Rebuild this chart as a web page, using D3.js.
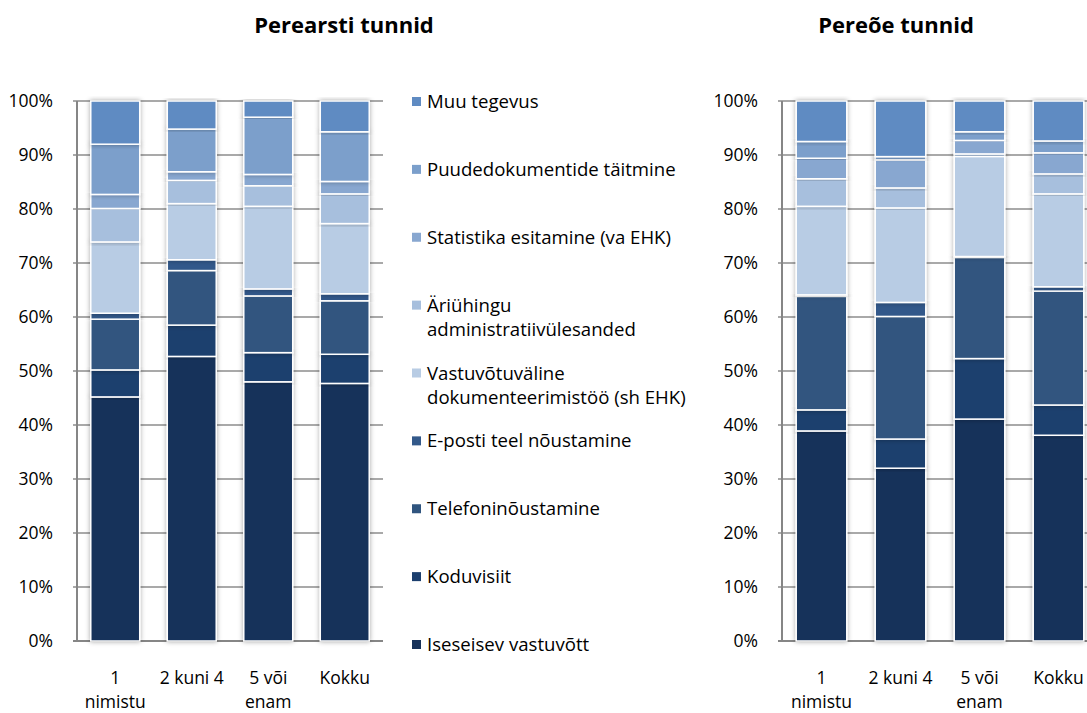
<!DOCTYPE html>
<html>
<head>
<meta charset="utf-8">
<script src="https://cdn.jsdelivr.net/npm/d3@7"></script>
<style>
      body { margin: 0; background: #fff; }
      svg { font-family: "Open Sans", Lato, sans-serif; }
</style>
</head>
<body>
<svg id="chart" width="1087" height="713"></svg>
<script>
// kategooriad (x-telg), iga rida kahe reaga
const categories = [["1", "nimistu"], ["2 kuni 4"], ["5 või", "enam"], ["Kokku"]];

// seeriad alt üles
const seriesNames = [
      "Iseseisev vastuvõtt",
      "Koduvisiit",
      "Telefoninõustamine",
      "E-posti teel nõustamine",
      "Vastuvõtuväline dokumenteerimistöö (sh EHK)",
      "Äriühingu administratiivülesanded",
      "Statistika esitamine (va EHK)",
      "Puudedokumentide täitmine",
      "Muu tegevus"
];
const legendLines = [
      ["Iseseisev vastuvõtt"],
      ["Koduvisiit"],
      ["Telefoninõustamine"],
      ["E-posti teel nõustamine"],
      ["Vastuvõtuväline", "dokumenteerimistöö (sh EHK)"],
      ["Äriühingu", "administratiivülesanded"],
      ["Statistika esitamine (va EHK)"],
      ["Puudedokumentide täitmine"],
      ["Muu tegevus"]
];
const seriesColors = ["#17325a", "#1c3f6e", "#30557f", "#33598a", "#b8cce4", "#a7bfdd", "#88a7d0", "#7b9fcb", "#5f8bc2"];

// Perearsti tunnid, % (seeriate järjekorras)
const arst1nimistu = [45.2, 5.0, 9.4, 1.1, 13.2, 6.2, 2.6, 9.3, 8.0];
const arst2kuni4 = [52.7, 5.8, 10.1, 2.0, 10.4, 4.3, 1.6, 7.9, 5.2];
const arst5voiEnam = [48.0, 5.4, 10.5, 1.3, 15.3, 3.8, 2.1, 10.6, 3.0];
const arstKokku = [47.7, 5.4, 9.9, 1.3, 13.0, 5.5, 2.3, 9.2, 5.7];

// Pereõe tunnid, %
const ode1nimistu = [38.9, 3.9, 21.0, 0.3, 16.4, 5.1, 3.8, 3.1, 7.5];
const ode2kuni4 = [32.0, 5.4, 22.7, 2.6, 17.5, 3.7, 5.2, 0.6, 10.3];
const ode5voiEnam = [41.1, 11.2, 18.7, 0.2, 18.5, 0.5, 2.5, 1.6, 5.7];
const odeKokku = [38.1, 5.6, 21.1, 0.8, 17.2, 3.7, 3.9, 2.2, 7.4];

const yTicks = [0, 10, 20, 30, 40, 50, 60, 70, 80, 90, 100];

const svg = d3.select("#chart");

const defs = svg.append("defs");
const shadow = defs.append("filter").attr("id", "glow")
      .attr("x", "-30%").attr("y", "-10%").attr("width", "160%").attr("height", "120%");
shadow.append("feDropShadow")
      .attr("dx", 0).attr("dy", 0).attr("stdDeviation", 2.5)
      .attr("flood-color", "#000").attr("flood-opacity", 0.35);

function draw_panel(title, rows, left, right, titleX) {
      const table = rows.map(function (vals, i) {
            const row = {cat: i};
            seriesNames.forEach(function (name, j) { row[name] = vals[j]; });
            return row;
      });
      const stacked = d3.stack().keys(seriesNames)(table);

      const x = d3.scaleBand()
            .domain(d3.range(categories.length))
            .range([left, right])
            .paddingInner(0.36)
            .paddingOuter(0.18);

      const y = d3.scaleLinear().domain([0, 100]).range([641, 101]);

      const g = svg.append("g");

      // ruudustik
      g.append("g").selectAll("line")
            .data(yTicks)
            .join("line")
            .attr("x1", left - 4)
            .attr("x2", right)
            .attr("y1", function (d) { return y(d); })
            .attr("y2", function (d) { return y(d); })
            .attr("stroke", d => d === 0 ? "#868686" : "#8c8c8c")
            .attr("stroke-width", d => d === 0 ? 2 : 1.5);

      g.append("line")
            .attr("x1", left).attr("x2", left)
            .attr("y1", y(100)).attr("y2", y(0))
            .attr("stroke", "#868686").attr("stroke-width", 2);

      const yAxis = g.append("g")
            .attr("transform", "translate(" + (left - 21) + ",0)")
            .call(d3.axisLeft(y).tickValues(yTicks).tickSize(0).tickFormat(d => d + "%"));
      yAxis.select(".domain").remove();
      yAxis.selectAll("text")
            .attr("font-size", 17.5)
            .attr("fill", "#000")
            .attr("font-family", "'Open Sans', sans-serif");

      // tulbad
      g.append("g").selectAll("g")
            .data(stacked)
            .join("g")
            .attr("fill", function (d, i) { return seriesColors[i]; })
            .selectAll("rect")
            .data(d => d)
            .join("rect")
            .attr("x", d => x(d.data.cat))
            .attr("width", x.bandwidth())
            .attr("y", d => y(d[1]))
            .attr("height", d => Math.max(0, y(d[0]) - y(d[1])))
            .attr("stroke", "#fff")
            .attr("stroke-width", 1.5)
            .attr("filter", "url(#glow)");

      // x-telje sildid
      const labels = g.append("g").selectAll("text")
            .data(categories)
            .join("text")
            .attr("x", (d, i) => x(i) + x.bandwidth() / 2)
            .attr("y", 684)
            .attr("text-anchor", "middle")
            .attr("font-size", 17.5)
            .attr("fill", "#000");
      labels.selectAll("tspan")
            .data(d => d)
            .join("tspan")
            .attr("x", function () { return this.parentNode.getAttribute("x"); })
            .attr("dy", (d, i) => i === 0 ? 0 : 24)
            .text(d => d);

      svg.append("text")
            .attr("x", titleX)
            .attr("y", 33)
            .attr("text-anchor", "middle")
            .attr("font-size", 22)
            .attr("font-weight", "bold")
            .attr("fill", "#000")
            .text(title);
}

draw_panel("Perearsti tunnid", [arst1nimistu, arst2kuni4, arst5voiEnam, arstKokku], 77, 383, 344);
draw_panel("Pereõe tunnid", [ode1nimistu, ode2kuni4, ode5voiEnam, odeKokku], 782, 1098, 896);

// legend
const legendY = d3.scalePoint()
      .domain(d3.range(seriesNames.length).reverse())
      .range([102, 645]);

const legend = svg.append("g").selectAll("g")
      .data(legendLines)
      .join("g")
      .attr("transform", (d, i) => "translate(412," + legendY(i) + ")");

legend.append("rect")
      .attr("x", 0).attr("y", -5)
      .attr("width", 9).attr("height", 9)
      .attr("fill", (d, i) => seriesColors[i]);

legend.append("text")
      .attr("x", 15)
      .attr("y", 6)
      .attr("font-size", 18.6)
      .attr("fill", "#000")
      .selectAll("tspan")
      .data(d => d)
      .join("tspan")
      .attr("x", 15)
      .attr("dy", (d, i) => i === 0 ? 0 : 24)
      .text(d => d);
</script>
</body>
</html>
